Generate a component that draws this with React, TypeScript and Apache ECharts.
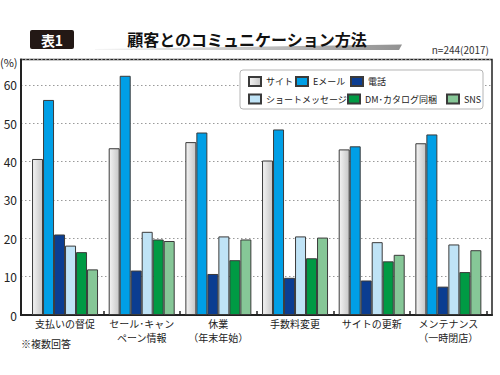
import React, { useEffect, useRef } from 'react';
import * as echarts from 'echarts';

const categories = ['支払いの督促', 'セール･キャン', '休業', '手数料変更', 'サイトの更新', 'メンテナンス'];
const categoriesLine2 = ['', 'ペーン情報', '（年末年始）', '', '', '（一時閉店）'];
const seriesNames = ['サイト', 'Eメール', '電話', 'ショートメッセージ', 'DM･カタログ同梱', 'SNS'];
const site = [40.7, 43.5, 45.1, 40.3, 43.2, 44.8];
const email = [56.1, 62.4, 47.6, 48.4, 44.0, 47.1];
const phone = [21.0, 11.6, 10.7, 9.7, 9.0, 7.4];
const sms = [18.1, 21.7, 20.5, 20.5, 19.0, 18.4];
const dm = [16.4, 19.7, 14.3, 14.8, 14.0, 11.2];
const sns = [11.9, 19.3, 19.7, 20.2, 15.7, 16.9];
const seriesValues = [site, email, phone, sms, dm, sns];
const yMaxLabel = 60;

const FONT = '"Noto Sans CJK JP", "Noto Sans", sans-serif';
const Y_MAX = 66.65;

const colors: any[] = [
  new echarts.graphic.LinearGradient(0, 0, 1, 0, [
    { offset: 0, color: '#f4f4f4' },
    { offset: 1, color: '#c6c6c6' },
  ]),
  '#009fe6',
  '#0b3d91',
  '#bfe3f6',
  '#009a44',
  '#86c797',
];

const legendPos = [
  [248, 76],
  [295, 76],
  [350, 76],
  [248, 93.5],
  [347, 93.5],
  [446, 93.5],
];

export default function App() {
  const ref = useRef<HTMLDivElement>(null);
  useEffect(() => {
    if (!ref.current) return;
    const chart = echarts.init(ref.current, undefined, { renderer: 'svg' });
    const option: any = {
      animation: false,
      textStyle: { fontFamily: FONT },
      grid: [
        { left: 21, right: 8, top: 59.5, bottom: 60, show: true, borderColor: '#222', borderWidth: 1.5, backgroundColor: 'transparent' },
        { left: 26.7, right: 13.3, top: 59.5, bottom: 60 },
      ],
      xAxis: [
        {
          gridIndex: 0, type: 'value', min: 0, max: 1,
          axisLine: { show: true, onZero: false, lineStyle: { color: '#222', width: 2 } },
          axisTick: { show: false }, axisLabel: { show: false }, splitLine: { show: false },
        },
        {
          gridIndex: 1, type: 'category', data: categories,
          axisLine: { show: false },
          axisTick: {
            show: true, inside: true, length: 4,
            interval: (i: number) => i !== 0,
            lineStyle: { color: '#222', width: 1.5 },
          },
          axisLabel: { fontSize: 10, color: '#222', lineHeight: 10, margin: 3, fontFamily: FONT, interval: 0 },
        },
        {
          gridIndex: 1, type: 'category', data: categoriesLine2, position: 'bottom',
          axisLine: { show: false }, axisTick: { show: false },
          axisLabel: { fontSize: 10, color: '#222', lineHeight: 10, margin: 17, fontFamily: FONT, interval: 0 },
        },
      ],
      yAxis: [
        {
          gridIndex: 0, type: 'value', min: 0, max: Y_MAX, interval: 10,
          axisLine: { show: true, lineStyle: { color: '#222', width: 2 } },
          axisTick: { show: false },
          axisLabel: {
            fontSize: 12, color: '#222', margin: 4, fontFamily: FONT,
            formatter: (v: number) => (v <= yMaxLabel + 0.01 ? String(Math.round(v)) : ''),
          },
          splitLine: { show: true, lineStyle: { color: '#9a9a9a', type: [1.5, 2.5], width: 1 } },
        },
        {
          gridIndex: 1, type: 'value', min: 0, max: Y_MAX, interval: 10, show: false,
          splitLine: { show: false },
        },
      ],
      legend: seriesNames.map((n, i) => ({
        data: [n],
        left: legendPos[i][0],
        top: legendPos[i][1],
        padding: 0,
        itemWidth: 12,
        itemHeight: 9,
        itemGap: 0,
        icon: 'rect',
        z: 6,
        selectedMode: false,
        textStyle: { fontSize: 9, color: '#222', fontFamily: FONT },
      })),
      series: seriesNames.map((n, i) => ({
        name: n,
        type: 'bar',
        xAxisIndex: 1,
        yAxisIndex: 1,
        data: seriesValues[i],
        barWidth: 11,
        barGap: '0%',
        itemStyle: { color: colors[i], borderColor: '#3a3a3a', borderWidth: 1 },
      })),
      graphic: [
        { type: 'rect', shape: { x: 30, y: 30, width: 44, height: 19, r: 2 }, style: { fill: '#231815' } },
        { type: 'text', x: 52, y: 40, style: { text: '表1', fill: '#fff', font: `bold 14px ${FONT}`, align: 'center', verticalAlign: 'middle' } },
        {
          type: 'polygon',
          shape: { points: [[95, 49], [402, 44.5], [399, 50], [95, 50]] },
          style: {
            fill: new echarts.graphic.LinearGradient(0, 0, 1, 0, [
              { offset: 0, color: '#f6f6f6' },
              { offset: 1, color: '#929292' },
            ]),
          },
        },
        { type: 'text', x: 247, y: 38.5, style: { text: '顧客とのコミュニケーション方法', fill: '#111', font: `bold 16px ${FONT}`, align: 'center', verticalAlign: 'middle' } },
        { type: 'text', x: 489, y: 49.5, style: { text: 'n=244(2017)', fill: '#333', font: `10px ${FONT}`, align: 'right', verticalAlign: 'middle' } },
        { type: 'text', x: 0, y: 62, style: { text: '(%)', fill: '#222', font: `11px ${FONT}`, align: 'left', verticalAlign: 'middle' } },
        { type: 'text', x: 21, y: 343, style: { text: '※複数回答', fill: '#222', font: `10px ${FONT}`, align: 'left', verticalAlign: 'middle' } },
        {
          type: 'rect', z: 3,
          shape: { x: 240, y: 70, width: 243, height: 39, r: 3 },
          style: { fill: '#fff', stroke: '#b5b5b5', lineWidth: 1 },
        },
      ],
    };
    chart.setOption(option);
    return () => chart.dispose();
  }, []);
  return <div ref={ref} style={{ position: 'fixed', left: 0, top: 0, width: 500, height: 375, background: '#fff' }} />;
}
